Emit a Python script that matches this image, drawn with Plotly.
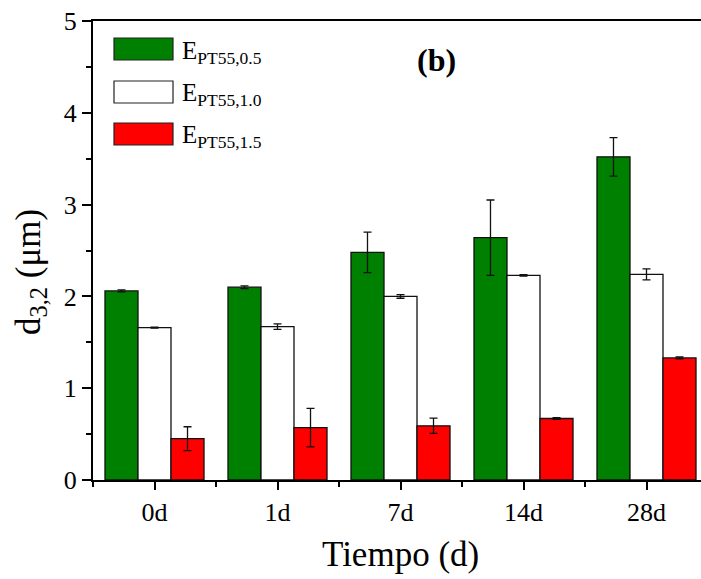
import plotly.graph_objects as go

categories = ["0d", "1d", "7d", "14d", "28d"]
series_names = ["E<sub>PT55,0.5</sub>", "E<sub>PT55,1.0</sub>", "E<sub>PT55,1.5</sub>"]
v_05 = [2.06, 2.10, 2.48, 2.64, 3.52]
e_05 = [0.01, 0.015, 0.22, 0.41, 0.21]
v_10 = [1.66, 1.67, 2.00, 2.23, 2.24]
e_10 = [0.005, 0.03, 0.02, 0.008, 0.06]
v_15 = [0.45, 0.57, 0.59, 0.67, 1.33]
e_15 = [0.13, 0.21, 0.083, 0.01, 0.01]
colors = ["#008000", "#ffffff", "#ff0000"]

W, H = 701, 579
L, T, B = 93, 21, 99
PW = W - L
PH = H - T - B
CAT_PX = 123.0
x_pos = list(range(len(categories)))
x_end = -0.5 + PW / CAT_PX

def px(x):
    return (x - L) / PW

def py(y):
    return (H - B - y) / PH

fig = go.Figure()
for name, vals, errs, col in zip(series_names, [v_05, v_10, v_15], [e_05, e_10, e_15], colors):
    fig.add_trace(go.Bar(
        x=x_pos, y=vals, name=name,
        marker=dict(color=col, line=dict(color="#111111", width=1.3)),
        error_y=dict(type="data", array=errs, visible=True, color="#111111", thickness=1.3, width=4),
        showlegend=False,
    ))

font_family = "Liberation Serif, Times New Roman, serif"

fig.update_layout(
    width=W, height=H,
    margin=dict(l=L, r=0, t=T, b=B),
    paper_bgcolor="white", plot_bgcolor="white",
    barmode="group", bargap=0.195, bargroupgap=0,
    font=dict(family=font_family, color="black"),
    xaxis=dict(
        range=[-0.5, x_end], tickmode="array", tickvals=x_pos, ticktext=categories,
        showline=True, linecolor="black", linewidth=2, mirror=True,
        ticks="outside", ticklen=8, tickwidth=1.5, tickcolor="black",
        tickfont=dict(size=26, family=font_family, color="black"),
        showgrid=False, zeroline=False,
        minor=dict(tickmode="array", tickvals=[i - 0.5 for i in range(len(categories) + 1)],
                   ticks="outside", ticklen=5, tickwidth=1.5, tickcolor="black", showgrid=False),
    ),
    yaxis=dict(
        range=[0, 5], tickmode="linear", tick0=0, dtick=1,
        showline=True, linecolor="black", linewidth=2, mirror=False,
        ticks="outside", ticklen=9, tickwidth=1.5, tickcolor="black",
        tickfont=dict(size=26, family=font_family, color="black"),
        showgrid=False, zeroline=False,
        minor=dict(dtick=0.5, ticks="outside", ticklen=5, tickwidth=1.5, tickcolor="black", showgrid=False),
    ),
)

# axis titles
fig.add_annotation(text="Tiempo (d)", xref="paper", yref="paper", x=px(400), y=py(554),
                   xanchor="center", yanchor="middle", showarrow=False,
                   font=dict(size=35, family=font_family, color="black"))
fig.add_annotation(text="d<sub>3,2</sub> (μm)", xref="paper", yref="paper", x=px(30), y=py(272),
                   xanchor="center", yanchor="middle", showarrow=False, textangle=-90,
                   font=dict(size=35, family=font_family, color="black"))
# panel label
fig.add_annotation(text="<b>(b)</b>", xref="paper", yref="paper", x=px(436), y=py(60),
                   xanchor="center", yanchor="middle", showarrow=False,
                   font=dict(size=32, family=font_family, color="black"))

# legend
box_tops = [38, 81, 123]
for name, col, top in zip(series_names, colors, box_tops):
    fig.add_shape(type="rect", xref="paper", yref="paper",
                  x0=px(114), x1=px(173), y0=py(top), y1=py(top + 22),
                  fillcolor=col, line=dict(color="#222222", width=1.2))
    fig.add_annotation(text=name, xref="paper", yref="paper", x=px(180), y=py(top + 14),
                       xanchor="left", yanchor="middle", showarrow=False,
                       font=dict(size=25, family=font_family, color="black"))

fig.write_html("out.html")
